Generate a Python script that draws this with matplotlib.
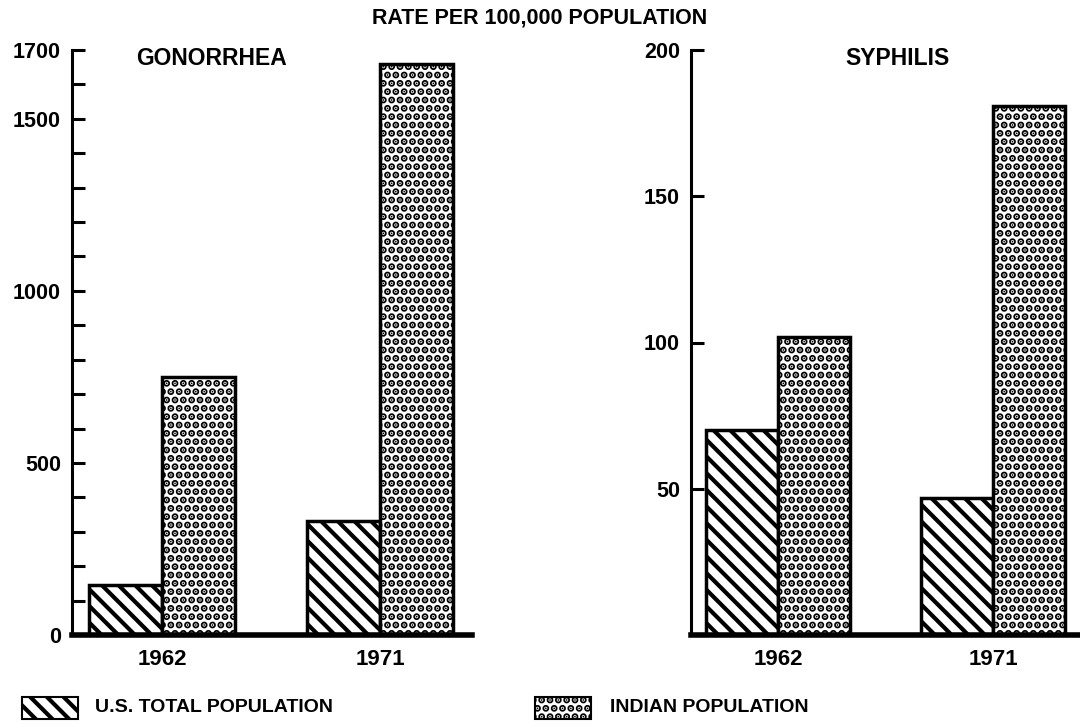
import matplotlib
matplotlib.use("Agg")
import matplotlib.pyplot as plt
import numpy as np
from matplotlib.patches import Rectangle

plt.rcParams['font.family'] = ['Liberation Sans', 'DejaVu Sans']
plt.rcParams['font.weight'] = 'bold'
plt.rcParams['hatch.linewidth'] = 2.6

years = ["1962", "1971"]
series = ["U.S. TOTAL POPULATION", "INDIAN POPULATION"]
gon_us = [145, 330]
gon_indian = [750, 1660]
syph_us = [70, 47]
syph_indian = [102, 181]

gon_ticks = list(range(0, 1701, 100))
gon_labels = ["0", "500", "1000", "1500", "1700"]
syph_ticks = [50, 100, 150, 200]
syph_labels = ["50", "100", "150", "200"]

hatch_us = "\\\\"
hatch_in = ".."
hlw_us = 3.0
hlw_in = 3.6

def set_hlw(patch, lw):
    if hasattr(patch, "set_hatch_linewidth"):
        patch.set_hatch_linewidth(lw)

fig = plt.figure(figsize=(10.8, 7.28), dpi=100)
bottom = (728 - 635) / 728
top = (728 - 50) / 728
axL = fig.add_axes([72 / 1080, bottom, 400 / 1080, top - bottom])
axR = fig.add_axes([691 / 1080, bottom, 389 / 1080, top - bottom])

w = 0.335
x = np.arange(len(years))

def style(ax, ymax, ticks, labels, xlim):
    ax.set_ylim(0, ymax)
    ax.set_xlim(*xlim)
    for s in ["top", "right"]:
        ax.spines[s].set_visible(False)
    ax.spines["left"].set_linewidth(2.2)
    ax.spines["bottom"].set_linewidth(4)
    ax.set_yticks(ticks)
    lab = [str(t) if str(t) in labels else "" for t in ticks]
    ax.set_yticklabels(lab, fontsize=15.5, fontweight='bold')
    ax.tick_params(axis='y', direction='in', length=9, width=2.2, pad=8)
    ax.set_xticks(x)
    ax.set_xticklabels(years, fontsize=16, fontweight='bold')
    ax.tick_params(axis='x', length=0, pad=10)

for ax, us, ind, ymax, ticks, labels, xlim, title, tx in [
    (axL, gon_us, gon_indian, 1700, gon_ticks, gon_labels, (-0.413, 1.422), "GONORRHEA", 0.35),
    (axR, syph_us, syph_indian, 200, syph_ticks, syph_labels, (-0.405, 1.405), "SYPHILIS", 0.53),
]:
    b1 = ax.bar(x - w / 2, us, w, facecolor='white', edgecolor='black', hatch=hatch_us, linewidth=2.5, zorder=2)
    b2 = ax.bar(x + w / 2, ind, w, facecolor='white', edgecolor='black', hatch=hatch_in, linewidth=2.5, zorder=2)
    for p in b1:
        set_hlw(p, hlw_us)
    for p in b2:
        set_hlw(p, hlw_in)
    style(ax, ymax, ticks, labels, xlim)
    ax.text(tx, 0.985, title, transform=ax.transAxes, ha='center', va='center',
            fontsize=16.5, fontweight='bold')

fig.text(0.5, 1 - 18 / 728, "RATE PER 100,000 POPULATION", ha='center', va='center',
         fontsize=15.5, fontweight='bold')

# legend
for (lx, tx), label, h, hl in zip([(22, 95), (535, 610)], series, [hatch_us, hatch_in], [hlw_us, hlw_in]):
    r = Rectangle((lx / 1080, 1 - 719 / 728), 56 / 1080, 22 / 728, transform=fig.transFigure,
                  facecolor='white', edgecolor='black', hatch=h, linewidth=1.5)
    set_hlw(r, hl)
    fig.add_artist(r)
    fig.text(tx / 1080, 1 - 708 / 728, label, ha='left', va='center', fontsize=14, fontweight='bold')

fig.savefig("out.png", dpi=100)
